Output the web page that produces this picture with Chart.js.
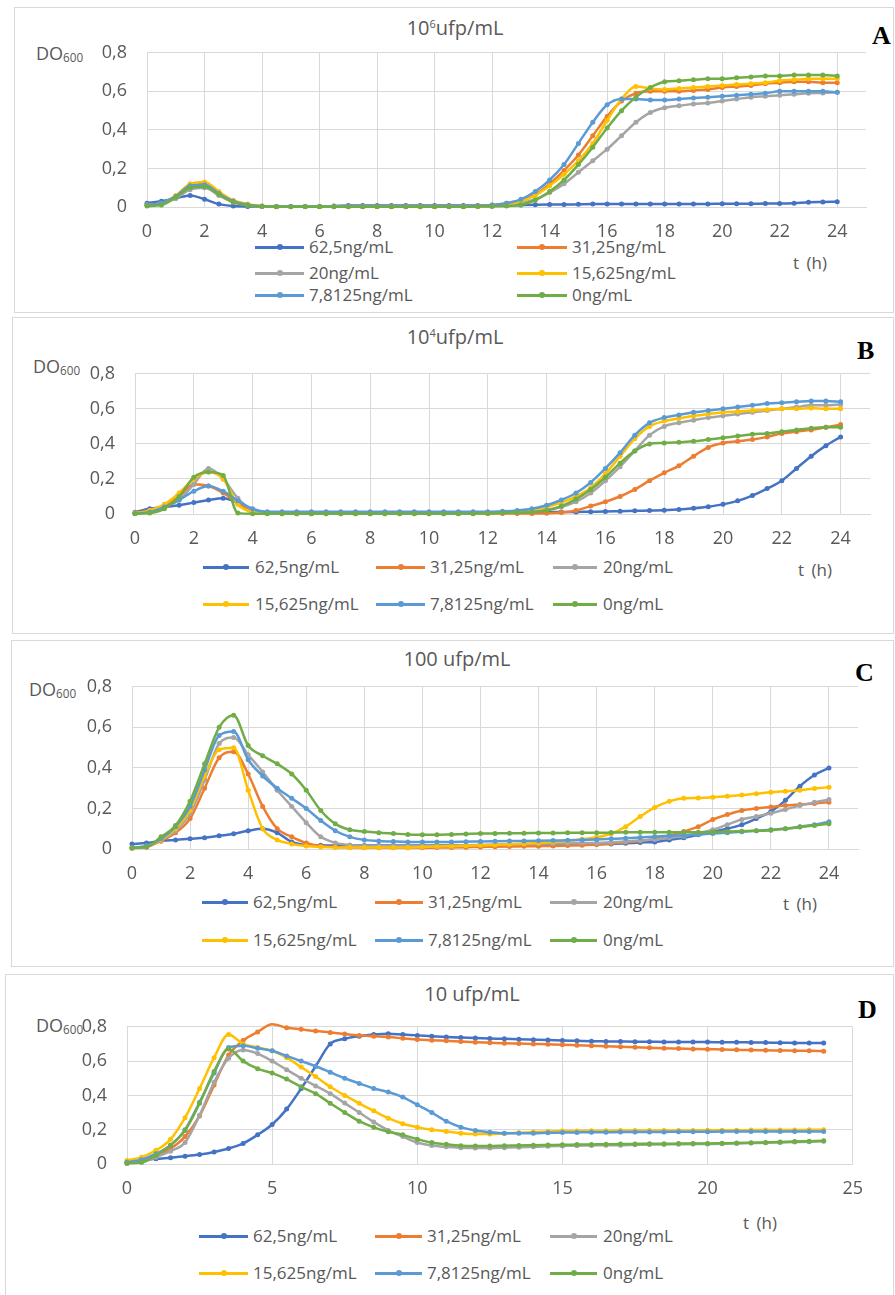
<!DOCTYPE html>
<html>
<head>
<meta charset="utf-8">
<script src="https://cdn.jsdelivr.net/npm/chart.js"></script>
<style>
body{margin:0;background:#fff;width:895px;height:1295px;position:relative;overflow:hidden;font-family:'Open Sans',sans-serif;color:#595959}
.box{position:absolute;border:1.5px solid #d9d9d9;box-sizing:border-box}
.txt{position:absolute;white-space:nowrap;line-height:1}
.txt sup{font-size:0.55em;vertical-align:0.6em;line-height:0}
.txt sub{font-size:0.65em;vertical-align:-0.15em;line-height:0}
.letter{position:absolute;font-family:'Liberation Serif',serif;font-weight:bold;color:#000;line-height:1;font-size:26px}
.legline{position:absolute;height:3px}
.legdot{position:absolute;width:6px;height:6px;border-radius:50%}
canvas{position:absolute}
</style>
</head>
<body>
<script>
// time in hours
const hours = [0,0.5,1,1.5,2,2.5,3,3.5,4,4.5,5,5.5,6,6.5,7,7.5,8,8.5,9,9.5,10,10.5,11,11.5,12,12.5,13,13.5,14,14.5,15,15.5,16,16.5,17,17.5,18,18.5,19,19.5,20,20.5,21,21.5,22,22.5,23,23.5,24];
const concentrations = ['62,5ng/mL','31,25ng/mL','20ng/mL','15,625ng/mL','7,8125ng/mL','0ng/mL'];
const colors = ['#4472C4','#ED7D31','#A5A5A5','#FFC000','#5B9BD5','#70AD47'];
const titles = ['10<sup>6</sup>ufp/mL','10<sup>4</sup>ufp/mL','100 ufp/mL','10 ufp/mL'];
const letters = ['A','B','C','D'];

// A : 10^6 ufp/mL
const a625 = [0.02,0.03,0.045,0.06,0.04,0.015,0.005,0.003,0.003,0.003,
0.003,0.003,0.003,0.005,0.008,0.008,0.008,0.008,0.008,0.008,
0.008,0.008,0.008,0.008,0.008,0.008,0.01,0.012,0.013,0.013,
0.014,0.015,0.015,0.015,0.015,0.015,0.015,0.016,0.016,0.016,
0.017,0.017,0.017,0.018,0.018,0.02,0.025,0.026,0.027];
const a3125 = [0.01,0.02,0.05,0.1,0.12,0.07,0.03,0.012,0.005,0.002,
0.002,0.002,0.002,0.002,0.002,0.002,0.002,0.002,0.002,0.002,
0.002,0.002,0.003,0.005,0.01,0.02,0.035,0.065,0.12,0.19,
0.27,0.37,0.47,0.55,0.59,0.6,0.6,0.6,0.605,0.61,
0.62,0.625,0.63,0.64,0.645,0.65,0.65,0.645,0.645];
const a20 = [0.01,0.02,0.045,0.09,0.1,0.06,0.025,0.01,0.003,0.002,
0.002,0.002,0.002,0.002,0.002,0.002,0.002,0.002,0.002,0.002,
0.002,0.002,0.002,0.003,0.005,0.01,0.02,0.04,0.075,0.12,
0.18,0.24,0.3,0.37,0.44,0.49,0.515,0.525,0.535,0.54,
0.55,0.56,0.57,0.575,0.58,0.585,0.59,0.592,0.595];
const a15625 = [0.01,0.02,0.06,0.12,0.13,0.08,0.035,0.015,0.005,0.002,
0.002,0.002,0.002,0.002,0.002,0.002,0.002,0.002,0.002,0.002,
0.002,0.002,0.003,0.004,0.008,0.015,0.03,0.06,0.11,0.17,
0.24,0.33,0.45,0.56,0.625,0.615,0.61,0.615,0.62,0.625,
0.63,0.635,0.64,0.645,0.655,0.66,0.665,0.665,0.665];
const a78125 = [0.01,0.02,0.055,0.11,0.115,0.07,0.03,0.012,0.004,0.002,
0.002,0.002,0.002,0.002,0.002,0.002,0.002,0.002,0.002,0.002,
0.002,0.002,0.003,0.005,0.01,0.02,0.04,0.08,0.14,0.22,
0.33,0.44,0.53,0.56,0.56,0.555,0.555,0.56,0.565,0.57,
0.575,0.58,0.585,0.59,0.6,0.6,0.6,0.6,0.595];
const a0 = [0.005,0.01,0.05,0.1,0.105,0.065,0.025,0.008,0.002,0.001,
0.001,0.001,0.001,0.001,0.001,0.001,0.001,0.001,0.001,0.001,
0.001,0.001,0.001,0.002,0.003,0.005,0.012,0.035,0.08,0.14,
0.22,0.31,0.41,0.5,0.57,0.62,0.65,0.655,0.66,0.665,
0.665,0.67,0.675,0.68,0.68,0.685,0.685,0.685,0.68];

// B : 10^4 ufp/mL
const b625 = [0.01,0.03,0.04,0.05,0.065,0.08,0.09,0.065,0.02,0.012,
0.012,0.012,0.012,0.012,0.012,0.012,0.012,0.012,0.012,0.012,
0.012,0.012,0.012,0.012,0.012,0.012,0.012,0.012,0.012,0.012,
0.012,0.013,0.014,0.016,0.018,0.02,0.022,0.026,0.033,0.042,
0.055,0.075,0.105,0.145,0.19,0.26,0.33,0.39,0.44];
const b3125 = [0.005,0.02,0.05,0.1,0.17,0.16,0.12,0.06,0.015,0.005,
0.003,0.003,0.003,0.003,0.003,0.003,0.003,0.003,0.003,0.003,
0.003,0.003,0.003,0.003,0.003,0.003,0.003,0.003,0.004,0.008,
0.02,0.045,0.07,0.1,0.14,0.19,0.235,0.275,0.33,0.38,
0.405,0.415,0.425,0.44,0.46,0.47,0.48,0.495,0.51];
const b20 = [0.003,0.01,0.04,0.08,0.17,0.26,0.2,0.09,0.02,0.005,
0.003,0.003,0.003,0.003,0.003,0.003,0.003,0.003,0.003,0.003,
0.003,0.003,0.003,0.004,0.005,0.007,0.01,0.015,0.025,0.04,
0.07,0.12,0.19,0.27,0.36,0.45,0.5,0.52,0.535,0.55,
0.56,0.57,0.58,0.59,0.6,0.61,0.62,0.62,0.625];
const b15625 = [0.005,0.02,0.055,0.12,0.2,0.24,0.2,0.055,0.01,0.003,
0.002,0.002,0.002,0.002,0.002,0.002,0.002,0.002,0.002,0.002,
0.002,0.002,0.003,0.004,0.006,0.01,0.015,0.025,0.04,0.065,
0.1,0.15,0.23,0.33,0.43,0.5,0.53,0.545,0.56,0.57,
0.58,0.585,0.59,0.595,0.6,0.6,0.605,0.6,0.6];
const b78125 = [0.003,0.01,0.04,0.08,0.13,0.16,0.13,0.075,0.03,0.012,
0.012,0.012,0.012,0.012,0.012,0.012,0.012,0.012,0.012,0.012,
0.012,0.012,0.012,0.012,0.012,0.015,0.02,0.03,0.05,0.08,
0.12,0.18,0.26,0.35,0.45,0.52,0.55,0.565,0.58,0.59,
0.6,0.61,0.62,0.63,0.635,0.64,0.645,0.645,0.64];
const b0 = [0.002,0.005,0.03,0.1,0.21,0.24,0.22,0.005,0.002,0.001,
0.001,0.001,0.001,0.001,0.001,0.001,0.001,0.001,0.001,0.001,
0.001,0.001,0.001,0.002,0.003,0.005,0.008,0.012,0.02,0.045,
0.085,0.14,0.21,0.29,0.36,0.4,0.405,0.41,0.415,0.425,
0.435,0.445,0.455,0.46,0.47,0.48,0.49,0.495,0.495];

// C : 100 ufp/mL
const c625 = [0.025,0.03,0.04,0.045,0.05,0.055,0.065,0.075,0.09,0.1,
0.08,0.035,0.02,0.018,0.017,0.017,0.017,0.017,0.017,0.017,
0.017,0.018,0.018,0.018,0.018,0.019,0.019,0.02,0.02,0.02,
0.021,0.022,0.023,0.025,0.028,0.032,0.035,0.045,0.056,0.07,
0.086,0.1,0.12,0.15,0.185,0.24,0.31,0.365,0.4];
const c3125 = [0.005,0.01,0.04,0.08,0.15,0.3,0.45,0.48,0.37,0.21,
0.1,0.06,0.03,0.015,0.01,0.008,0.006,0.006,0.006,0.006,
0.006,0.007,0.008,0.009,0.01,0.011,0.012,0.013,0.014,0.015,
0.017,0.019,0.022,0.027,0.033,0.04,0.05,0.065,0.086,0.11,
0.145,0.17,0.19,0.2,0.207,0.215,0.22,0.225,0.23];
const c20 = [0.005,0.01,0.045,0.09,0.175,0.34,0.52,0.55,0.465,0.38,
0.29,0.21,0.13,0.06,0.03,0.02,0.015,0.015,0.015,0.015,
0.015,0.016,0.017,0.018,0.02,0.022,0.024,0.025,0.026,0.027,
0.028,0.029,0.03,0.033,0.037,0.042,0.047,0.055,0.063,0.078,
0.095,0.12,0.146,0.16,0.176,0.195,0.214,0.23,0.244];
const c15625 = [0.005,0.015,0.045,0.1,0.19,0.36,0.49,0.5,0.29,0.1,
0.045,0.025,0.015,0.01,0.008,0.008,0.008,0.008,0.008,0.008,
0.01,0.012,0.014,0.016,0.018,0.02,0.023,0.026,0.03,0.035,
0.04,0.048,0.058,0.075,0.11,0.16,0.205,0.235,0.25,0.252,
0.255,0.26,0.266,0.272,0.28,0.285,0.29,0.298,0.305];
const c78125 = [0.005,0.015,0.05,0.11,0.21,0.39,0.56,0.58,0.44,0.36,
0.3,0.25,0.2,0.14,0.09,0.06,0.045,0.04,0.037,0.035,
0.035,0.035,0.035,0.036,0.037,0.038,0.039,0.04,0.041,0.042,
0.043,0.045,0.047,0.05,0.053,0.057,0.061,0.065,0.068,0.072,
0.076,0.08,0.085,0.09,0.095,0.1,0.11,0.12,0.135];
const c0 = [0.005,0.01,0.06,0.116,0.236,0.42,0.6,0.66,0.51,0.46,
0.42,0.37,0.29,0.19,0.124,0.095,0.086,0.08,0.076,0.072,
0.07,0.07,0.072,0.074,0.076,0.077,0.078,0.078,0.079,0.079,
0.08,0.08,0.08,0.081,0.082,0.082,0.083,0.083,0.083,0.083,
0.084,0.086,0.088,0.09,0.093,0.1,0.108,0.116,0.125];

// D : 10 ufp/mL
const d625 = [0.012,0.02,0.03,0.037,0.045,0.055,0.07,0.09,0.12,0.17,
0.23,0.32,0.44,0.57,0.7,0.73,0.745,0.755,0.76,0.755,
0.75,0.745,0.74,0.737,0.735,0.732,0.73,0.727,0.725,0.723,
0.72,0.718,0.716,0.715,0.714,0.713,0.713,0.712,0.712,0.711,
0.711,0.71,0.71,0.709,0.708,0.707,0.706,0.705,0.705];
const d3125 = [0.005,0.02,0.05,0.09,0.16,0.28,0.46,0.635,0.72,0.77,
0.815,0.795,0.785,0.775,0.767,0.758,0.75,0.745,0.74,0.733,
0.726,0.722,0.718,0.714,0.71,0.707,0.704,0.702,0.7,0.698,
0.696,0.693,0.69,0.687,0.684,0.681,0.678,0.675,0.673,0.671,
0.669,0.668,0.666,0.664,0.663,0.662,0.661,0.66,0.658];
const d20 = [0.005,0.01,0.04,0.075,0.126,0.284,0.477,0.617,0.665,0.644,
0.6,0.55,0.5,0.455,0.41,0.355,0.3,0.245,0.196,0.16,
0.125,0.108,0.1,0.095,0.093,0.093,0.095,0.097,0.1,0.103,
0.105,0.107,0.108,0.11,0.11,0.112,0.113,0.114,0.115,0.116,
0.117,0.118,0.12,0.122,0.124,0.126,0.128,0.13,0.132];
const d15625 = [0.02,0.04,0.08,0.144,0.27,0.44,0.62,0.755,0.7,0.68,
0.66,0.62,0.565,0.51,0.45,0.4,0.354,0.31,0.267,0.235,
0.215,0.2,0.19,0.18,0.175,0.175,0.178,0.182,0.186,0.19,
0.192,0.193,0.194,0.194,0.195,0.195,0.195,0.196,0.196,0.196,
0.197,0.197,0.197,0.198,0.198,0.198,0.198,0.199,0.199];
const d78125 = [0.01,0.025,0.06,0.11,0.2,0.36,0.53,0.68,0.69,0.675,
0.66,0.63,0.6,0.57,0.535,0.5,0.47,0.44,0.42,0.39,
0.345,0.3,0.25,0.215,0.195,0.185,0.18,0.18,0.18,0.182,
0.183,0.184,0.185,0.185,0.186,0.186,0.187,0.187,0.188,0.188,
0.188,0.189,0.189,0.19,0.19,0.19,0.19,0.19,0.19];
const d0 = [0.005,0.01,0.05,0.11,0.196,0.354,0.54,0.67,0.6,0.556,
0.53,0.495,0.45,0.41,0.354,0.3,0.25,0.214,0.188,0.17,
0.145,0.125,0.115,0.107,0.105,0.105,0.107,0.108,0.11,0.111,
0.112,0.113,0.114,0.115,0.116,0.117,0.118,0.118,0.119,0.12,
0.12,0.121,0.122,0.124,0.126,0.128,0.131,0.133,0.135];

const seriesByPanel = [
  [a625,a3125,a20,a15625,a78125,a0],
  [b625,b3125,b20,b15625,b78125,b0],
  [c625,c3125,c20,c15625,c78125,c0],
  [d625,d3125,d20,d15625,d78125,d0]
];

// page layout (pixels) of each panel
const layouts = [
  {plot:[147,38,866,207], step:2, box:[14,7,894,313], title:[455,18], doLbl:[36,44], letter:[872,23], tLbl:[793,254],
   cols:[[255,304,309],[517,567,572]], rows:[247,273,295]},
  {plot:[135,359,870,514], step:2, box:[12,317,894,634], title:[455,327], doLbl:[33,357], letter:[857,338], tLbl:[798,561],
   cols:[[203,249,255],[376,425,430],[553,597,603]], rows:[567,604]},
  {plot:[132,672,858,849], step:2, box:[11,640,894,967], title:[457,649], doLbl:[29,680], letter:[855,660], tLbl:[783,895],
   cols:[[202,248,253],[375,423,428],[550,597,603]], rows:[902,940]},
  {plot:[127,1012,857,1164], step:5, box:[5,974,894,1300], title:[472,984], doLbl:[36,1016], letter:[858,997], tLbl:[743,1214],
   cols:[[199,248,253],[375,422,427],[550,597,603]], rows:[1236,1273]}
];

Chart.defaults.font.family = "'Open Sans', sans-serif";
Chart.defaults.font.size = 18;
Chart.defaults.color = '#595959';

function addEl(cls, html, left, top, extra) {
  const d = document.createElement('div');
  d.className = cls;
  d.innerHTML = html;
  d.style.left = left + 'px';
  d.style.top = top + 'px';
  if (extra) Object.assign(d.style, extra);
  document.body.appendChild(d);
  return d;
}

function yLabel(v) {
  return v === 0 ? '0' : v.toFixed(1).replace('.', ',');
}

function drawPanel(i) {
  const L = layouts[i];
  const series = seriesByPanel[i];
  const [pl, pt, pr, pb] = L.plot;

  // frame
  addEl('box', '', L.box[0], L.box[1], {width: (L.box[2]-L.box[0])+'px', height: (L.box[3]-L.box[1])+'px'});

  // texts
  addEl('txt', titles[i], L.title[0]-150, L.title[1], {width:'300px', textAlign:'center', fontSize:'20px'});
  addEl('txt', 'DO<sub>600</sub>', L.doLbl[0], L.doLbl[1], {fontSize:'18px'});
  addEl('letter', letters[i], L.letter[0], L.letter[1]);
  addEl('txt', 't (h)', L.tLbl[0], L.tLbl[1], {fontSize:'17px', wordSpacing:'3px'});

  // legend
  const perRow = L.cols.length;
  series.forEach((s, k) => {
    const c = L.cols[k % perRow];
    const y = L.rows[Math.floor(k / perRow)];
    addEl('legline', '', c[0], y - 1.5, {width: (c[1]-c[0])+'px', background: colors[k]});
    addEl('legdot', '', (c[0]+c[1])/2 - 3, y - 3, {background: colors[k]});
    addEl('txt', concentrations[k], c[2], y - 9, {fontSize:'17px'});
  });

  // chart
  const yW = 60, xH = 40, padT = 16, padR = 20;
  const w = pr - pl + yW + padR;
  const h = pb - pt + padT + xH;
  const cv = document.createElement('canvas');
  cv.width = w; cv.height = h;
  cv.style.width = w + 'px'; cv.style.height = h + 'px';
  cv.style.left = (pl - yW) + 'px';
  cv.style.top = (pt - padT) + 'px';
  document.body.appendChild(cv);

  new Chart(cv, {
    type: 'line',
    data: {
      datasets: series.map((s, k) => ({
        label: concentrations[k],
        data: hours.map((t, j) => ({x: t, y: s[j]})),
        borderColor: colors[k],
        backgroundColor: colors[k],
        borderWidth: 2.5,
        pointRadius: 2.5,
        pointBorderWidth: 0,
        pointHoverRadius: 2.5,
        cubicInterpolationMode: 'monotone',
        clip: 10,
        order: 5 - k
      }))
    },
    options: {
      responsive: false,
      animation: false,
      devicePixelRatio: 1,
      layout: {padding: {top: padT, right: padR, left: 0, bottom: 0}},
      plugins: {legend: {display: false}, tooltip: {enabled: false}},
      scales: {
        x: {
          type: 'linear', min: 0, max: 25,
          afterFit: sc => { sc.height = xH; },
          grid: {color: '#d9d9d9', drawTicks: false},
          border: {color: '#d9d9d9'},
          ticks: {stepSize: L.step, includeBounds: false, padding: 14, maxRotation: 0}
        },
        y: {
          min: 0, max: 0.8,
          afterFit: sc => { sc.width = yW; },
          grid: {color: '#d9d9d9', drawTicks: false},
          border: {color: '#d9d9d9'},
          ticks: {stepSize: 0.2, padding: 20, callback: v => yLabel(v)}
        }
      }
    }
  });
}

for (let i = 0; i < 4; i++) drawPanel(i);
</script>
</body>
</html>
